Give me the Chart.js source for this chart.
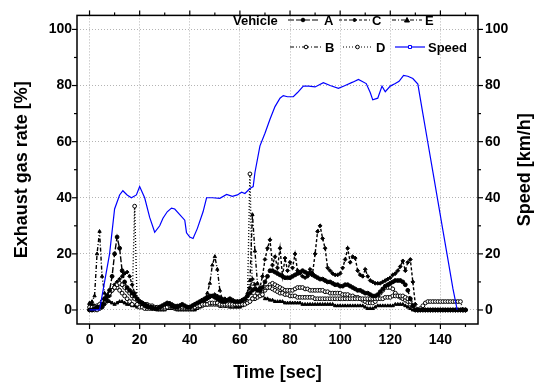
<!DOCTYPE html>
<html lang="en">
<head>
<meta charset="UTF-8">
<title>Exhaust gas rate and speed</title>
<style>
  body { margin: 0; background: #fff; }
  canvas { display: block; }
</style>
<script src="https://cdn.jsdelivr.net/npm/chart.js"></script>
</head>
<body>
<canvas id="chart" width="542" height="383"></canvas>
<script>
// sample grid of the exhaust measurements, 1 s steps
const timeSec = Array.from({ length: 151 }, (_, i) => i);

const vehicleA = [
  0, 0, 0.5, 1, 1, 2, 4, 5, 7, 12,
  20, 26, 22, 14, 10, 8, 7, 6, 5, 4,
  3, 2.5, 2, 1.5, 1, 1, 0.5, 0.5, 1, 1.5,
  2, 2.5, 2, 1.5, 1, 1, 1.5, 2, 1.5, 1,
  1, 1.5, 2, 2.5, 3, 3.5, 4, 4.5, 5, 5,
  4.5, 4, 3.5, 3, 3, 3.5, 4, 3.5, 3, 3,
  3, 3.5, 4, 5, 6, 7, 7.5, 7, 7, 8,
  10, 12, 14, 14, 13.5, 13, 12.5, 12, 11.5, 11.5,
  11.5, 12, 12.5, 13, 13.5, 14, 13.5, 13, 13, 12.5,
  12, 11.5, 11, 11, 10.5, 10, 10, 9.5, 9, 9,
  8.5, 8.5, 9, 9, 8.5, 8, 7.5, 7, 7, 6.5,
  6, 6, 5.5, 5, 5, 5.5, 6.5, 7.5, 8.5, 9,
  9.5, 10, 10.5, 10.5, 10.5, 10, 9, 7, 4, 1.5,
  0, 0, 0, 0, 0, 0, 0, 0, 0, 0,
  0, 0, 0, 0, 0, 0, 0, 0, 0, 0,
  0
];
const vehicleB = [
  1, 1, 1, 1.5, 2, 3, 4, 5, 6, 7,
  8, 9, 9.5, 9, 8, 7, 6, 5, 4, 3.5,
  3, 2.5, 2, 2, 1.5, 1.5, 1, 1, 1, 1,
  1, 1, 1.5, 1.5, 1, 1, 1, 1, 1, 1,
  1, 1, 1, 1.5, 1.5, 2, 2, 2, 2.5, 2.5,
  2.5, 2.5, 2, 2, 2, 2, 2, 2, 2, 2,
  2, 2, 2, 2.5, 3, 4, 5, 6, 7, 7.5,
  8, 8, 8, 7.5, 7, 6.5, 6, 6, 5.5, 5.5,
  5, 5, 5, 4.5, 4.5, 4.5, 4.5, 4.5, 4.5, 4.5,
  4, 4, 4, 4, 4, 4, 4, 4, 4, 4,
  4, 4, 4, 4, 4, 4, 4, 4, 4, 4,
  4, 4, 4, 4, 4, 4, 4, 4, 4.5, 4.5,
  4.5, 5, 5, 5, 5, 5, 4.5, 4, 3, 1.5,
  0.5, 0, 0.5, 1.5, 2.5, 3, 3, 3, 3, 3,
  3, 3, 3, 3, 3, 3, 3, 3, 3, 0,
  0
];
const vehicleC = [
  2, 2, 1.5, 1, 1, 1, 2, 3, 5, 7,
  9, 10, 11, 12, 13, 13.5, 12, 9, 6, 4,
  3, 2, 1.5, 1, 1, 0.5, 0.5, 0.5, 1, 1,
  1.5, 2, 2.5, 2, 1.5, 1.5, 1.5, 1, 1, 1,
  1, 1.5, 2, 2, 2.5, 3, 3.5, 4, 4.5, 5,
  5.5, 5, 4.5, 4, 4, 3.5, 3.5, 3, 3, 3,
  3, 3.5, 4, 5, 8, 11, 9, 7, 8, 12,
  18, 22, 25, 16, 19, 15, 22, 12, 18.5, 14,
  17, 15, 20, 14, 13, 12, 11.5, 12, 14.5, 13,
  20, 28, 30, 25.5, 22, 15, 14, 13, 12.5, 12.5,
  13, 15, 18, 22, 17, 19, 18.5, 14, 12.5, 12,
  14.5, 12, 10.5, 10, 9.5, 9.5, 9.5, 10, 10.5, 11,
  11.5, 12.5, 13, 14, 15.5, 17.5, 14, 17, 18, 10,
  2, 0, 0, 0, 0, 0, 0, 0, 0, 0,
  0, 0, 0, 0, 0, 0, 0, 0, 0, 0,
  0
];
const vehicleD = [
  0, 0, 0, 0, 0.5, 1, 3, 5, 6, 7,
  8, 8, 7, 6, 5, 4, 3, 2, 37, 2,
  1, 1, 0.5, 0.5, 0.5, 0.5, 0.5, 0.5, 0.5, 0.5,
  0.5, 1, 1, 1, 0.5, 0.5, 0.5, 0.5, 0.5, 0.5,
  0.5, 0.5, 1, 1, 1.5, 1.5, 2, 2, 2, 2,
  2, 2, 1.5, 1.5, 1.5, 1.5, 1.5, 1.5, 2, 2,
  2, 2, 2.5, 3, 48.5, 4, 4, 4.5, 5, 5.5,
  7, 8, 9, 9.5, 9, 8.5, 8, 7.5, 7, 7,
  7, 7, 7.5, 8, 8, 8, 7.5, 7.5, 7, 7,
  7, 7, 7, 7, 6.5, 6.5, 6, 6, 6, 6,
  6, 5.5, 5.5, 5.5, 5, 5, 4.5, 4.5, 4, 3.5,
  3, 2.5, 2.5, 2.5, 3, 4.5, 6, 7, 8, 8,
  8, 7.5, 6, 5, 4.5, 4, 3.5, 3, 2, 1,
  0, 0, 0, 0, 0, 0, 0, 0, 0, 0,
  0, 0, 0, 0, 0, 0, 0, 0, 0, 0,
  0
];
const vehicleE = [
  2.5, 3, 5, 20, 28, 12, 6, 4, 3, 2.5,
  2, 2.5, 3, 3, 2.5, 2, 2, 1.5, 1.5, 1,
  1, 1, 1, 0.5, 0.5, 0.5, 0.5, 0, 0, 0,
  0, 0.5, 0.5, 0.5, 0.5, 0, 0, 0, 0, 0,
  0, 0, 0, 0.5, 1, 2, 3.5, 6, 9.5, 16,
  19, 14.5, 7, 3.5, 2, 1.5, 1, 1, 1, 1,
  1, 1.5, 3, 6, 10.5, 34, 21, 9.5, 7, 5,
  4, 4, 3.5, 3.5, 3, 3, 3, 3, 2.5, 2.5,
  2.5, 2.5, 2.5, 2.5, 2.5, 2, 2, 2, 2, 2,
  2, 2, 2, 2, 2, 2, 2, 2, 1.5, 1.5,
  1.5, 1.5, 1.5, 1.5, 1.5, 1.5, 1.5, 1.5, 1.5, 1.5,
  1, 0.5, 0.5, 0.5, 1, 1.5, 1.5, 1.5, 1.5, 1.5,
  1.5, 1.5, 2, 2, 2, 2, 1.5, 1, 0.5, 0,
  0, 0, 0, 0, 0, 0, 0, 0, 0, 0,
  0, 0, 0, 0, 0, 0, 0, 0, 0, 0,
  0
];

// vehicle speed, read at the corners of the trace
const speedTime = [
  0, 2, 4, 6, 8, 10, 12, 13.3, 15, 16.7, 18.7, 20, 22, 24, 26, 28, 29.3, 31, 32.7, 34,
  36, 38, 38.7, 40, 41.3, 43, 45.3, 46.7, 49, 52, 54.7, 57, 59, 60.7, 62, 64, 65.3, 66, 68, 70,
  72, 74, 76, 77.3, 79, 81.3, 83, 85.3, 87.5, 90, 93.3, 96, 99.3, 102, 105, 107.3, 110.4, 112, 113, 115,
  116.7, 118, 120, 122, 123.5, 125.3, 127, 129, 131, 133, 135, 137, 139, 141, 143, 145, 146.7
];
const speedKmh = [
  0, 0, 0, 10, 20, 36, 41, 42.5, 41, 40, 41, 44, 40, 33, 27.7, 30, 32.7, 35, 36.3, 36,
  34, 32, 27.5, 26, 25.5, 29, 35, 40, 40, 39.8, 41.2, 40.5, 41, 42, 41.5, 43.3, 44, 49, 58.5, 63,
  68, 72.5, 75.5, 76.4, 76, 76, 77.5, 79.8, 79.8, 79.5, 81, 80, 79, 80, 81.2, 82.2, 80.7, 77.5, 74.9, 75.5,
  79.8, 77.8, 79.8, 80.7, 81.5, 83.6, 83.3, 82.5, 80.5, 70, 59.6, 49.2, 38.8, 28.4, 18, 7.6, 0
];

const xMajor = [0, 20, 40, 60, 80, 100, 120, 140];
const xMinor = [10, 30, 50, 70, 90, 110, 130, 150];
const yMajor = [0, 20, 40, 60, 80, 100];
const yMinor = [10, 30, 50, 70, 90];

const FONT = "'Liberation Sans', Arial, sans-serif";

// legend styles per series
const styles = {
  A: { dash: [6, 2], point: 'circle', filled: true },
  B: { dash: [4, 2, 1, 2, 1, 2], point: 'circle', filled: false },
  C: { dash: [3, 2], point: 'rectRot', filled: true },
  D: { dash: [1, 2], point: 'circle', filled: false },
  E: { dash: [4, 2, 1, 2], point: 'triangle', filled: true }
};

function vehicleSet(name, values) {
  const st = styles[name];
  return {
    label: name,
    data: timeSec.map((t, i) => ({ x: t, y: values[i] })),
    yAxisID: 'y',
    borderColor: '#000',
    borderWidth: 1.4,
    borderDash: st.dash,
    pointStyle: st.point,
    pointRadius: 1.9,
    pointBorderWidth: 1,
    pointBorderColor: '#000',
    pointBackgroundColor: st.filled ? '#000' : '#fff',
    tension: 0
  };
}

function drawMarker(ctx, style, filled, x, y, color) {
  ctx.save();
  ctx.setLineDash([]);
  ctx.lineWidth = 1;
  ctx.strokeStyle = color;
  ctx.fillStyle = filled ? color : '#fff';
  ctx.beginPath();
  if (style === 'triangle') {
    ctx.moveTo(x, y - 2.5); ctx.lineTo(x + 2.5, y + 2); ctx.lineTo(x - 2.5, y + 2); ctx.closePath();
  } else if (style === 'rect') {
    ctx.rect(x - 1.5, y - 1.5, 3, 3);
  } else if (style === 'rectRot') {
    ctx.moveTo(x, y - 2); ctx.lineTo(x + 2, y); ctx.lineTo(x, y + 2); ctx.lineTo(x - 2, y); ctx.closePath();
  } else {
    ctx.arc(x, y, 1.8, 0, Math.PI * 2);
  }
  ctx.fill();
  ctx.stroke();
  ctx.restore();
}

const framePlugin = {
  id: 'frame',
  afterDatasetsDraw(chart) {
    const { ctx, chartArea: a, scales } = chart;
    ctx.save();
    ctx.strokeStyle = '#000';
    ctx.lineWidth = 1.5;
    ctx.setLineDash([]);
    ctx.strokeRect(a.left, a.top, a.right - a.left, a.bottom - a.top);
    ctx.lineWidth = 1.2;
    const seg = (x1, y1, x2, y2) => { ctx.beginPath(); ctx.moveTo(x1, y1); ctx.lineTo(x2, y2); ctx.stroke(); };
    const xTicks = (vals, len) => vals.forEach(v => {
      const px = scales.x.getPixelForValue(v);
      seg(px, a.bottom, px, a.bottom + len);
      seg(px, a.top, px, a.top - len);
    });
    const yTicks = (vals, len) => vals.forEach(v => {
      const py = scales.y.getPixelForValue(v);
      seg(a.left, py, a.left - len, py);
      seg(a.right, py, a.right + len, py);
    });
    xTicks(xMajor, 5); xTicks(xMinor, 3);
    yTicks(yMajor, 5); yTicks(yMinor, 3);
    ctx.restore();
  },
  afterDraw(chart) {
    const { ctx, chartArea: a } = chart;
    ctx.save();
    ctx.fillStyle = '#000';
    ctx.font = `bold 18px ${FONT}`;
    ctx.textAlign = 'center';
    ctx.textBaseline = 'alphabetic';
    ctx.fillText('Time [sec]', (a.left + a.right) / 2, 378);
    const midY = (a.top + a.bottom) / 2;
    [['Exhaust gas rate [%]', 26.5], ['Speed [km/h]', 529.5]].forEach(([txt, x]) => {
      ctx.save();
      ctx.translate(x, midY);
      ctx.rotate(-Math.PI / 2);
      ctx.fillText(txt, 0, 0);
      ctx.restore();
    });

    // legend, two rows like the original
    ctx.font = `bold 13px ${FONT}`;
    ctx.textAlign = 'left';
    ctx.fillText('Vehicle', 233, 25);
    const items = [
      ['A', 288, 318, 20, 324, 25], ['C', 339, 370, 20, 372, 25], ['E', 392, 422, 20, 425, 25],
      ['B', 290, 322, 47, 325, 52], ['D', 343, 372, 47, 376, 52]
    ];
    items.forEach(([name, x1, x2, y, tx, ty]) => {
      const st = styles[name];
      ctx.save();
      ctx.strokeStyle = '#000';
      ctx.lineWidth = 1;
      ctx.setLineDash(st.dash);
      ctx.beginPath(); ctx.moveTo(x1, y); ctx.lineTo(x2, y); ctx.stroke();
      ctx.restore();
      drawMarker(ctx, st.point, st.filled, (x1 + x2) / 2, y, '#000');
      ctx.fillText(name, tx, ty);
    });
    ctx.save();
    ctx.strokeStyle = '#0000ff';
    ctx.lineWidth = 1.2;
    ctx.beginPath(); ctx.moveTo(395, 47); ctx.lineTo(425, 47); ctx.stroke();
    ctx.restore();
    drawMarker(ctx, 'rect', false, 410, 47, '#0000ff');
    ctx.fillText('Speed', 428, 52);
    ctx.restore();
  }
};

const tickFont = { family: FONT, size: 14, weight: 'bold' };
const dotted = { display: false, dash: [1, 2] };

new Chart(document.getElementById('chart'), {
  type: 'line',
  data: {
    datasets: [
      {
        label: 'Speed',
        data: speedTime.map((t, i) => ({ x: t, y: speedKmh[i] })),
        yAxisID: 'y2',
        borderColor: '#0000ff',
        borderWidth: 1.2,
        pointRadius: 0,
        tension: 0
      },
      vehicleSet('A', vehicleA),
      vehicleSet('B', vehicleB),
      vehicleSet('C', vehicleC),
      vehicleSet('D', vehicleD),
      vehicleSet('E', vehicleE)
    ]
  },
  options: {
    responsive: false,
    animation: false,
    devicePixelRatio: 1,
    layout: { padding: { top: 11, left: 0, right: 0, bottom: 0 } },
    plugins: { legend: { display: false }, tooltip: { enabled: false } },
    scales: {
      x: {
        type: 'linear',
        min: -5,
        max: 155,
        afterBuildTicks: s => { s.ticks = xMajor.map(v => ({ value: v })); },
        afterFit: s => { s.height = 59; },
        grid: { color: '#b4b4b4', lineWidth: 1, drawTicks: false },
        border: dotted,
        ticks: { color: '#000', font: tickFont, padding: 8, maxRotation: 0, autoSkip: false }
      },
      y: {
        position: 'left',
        min: -5,
        max: 105,
        afterBuildTicks: s => { s.ticks = yMajor.map(v => ({ value: v })); },
        afterFit: s => { s.width = 77; },
        grid: { color: '#b4b4b4', lineWidth: 1, drawTicks: false },
        border: dotted,
        ticks: { color: '#000', font: tickFont, padding: 5 }
      },
      y2: {
        position: 'right',
        min: -5,
        max: 105,
        afterBuildTicks: s => { s.ticks = yMajor.map(v => ({ value: v })); },
        afterFit: s => { s.width = 64; },
        grid: { drawOnChartArea: false, drawTicks: false },
        border: { display: false },
        ticks: { color: '#000', font: tickFont, padding: 7 }
      }
    }
  },
  plugins: [framePlugin]
});
</script>
</body>
</html>
